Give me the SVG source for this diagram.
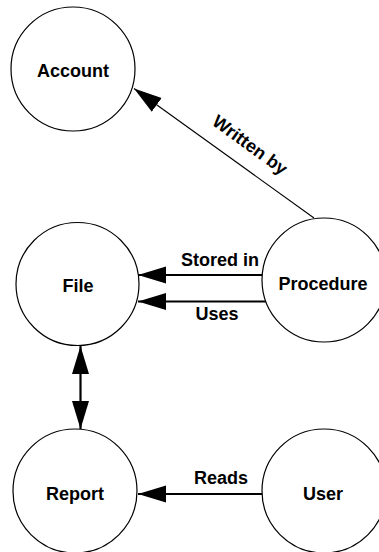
<svg xmlns="http://www.w3.org/2000/svg" width="379" height="552" viewBox="0 0 379 552">
<style>
.node circle{fill:#fff;stroke:#000;stroke-width:1.2}
.lbl{font-family:"Liberation Sans",Arial,sans-serif;font-weight:bold;font-size:18px;fill:#000;text-anchor:middle}
.edge{stroke:#000;fill:none}
.thick{stroke-width:2.2}
.thin{stroke-width:1.1}
</style>
<defs>
<marker id="ah" markerUnits="userSpaceOnUse" markerWidth="30" markerHeight="20" viewBox="0 -10 30 20" refX="28" refY="0" orient="auto-start-reverse">
<path d="M0,-8.5 L28,0 L0,8.5 z" fill="#000"/>
</marker>
</defs>
<g id="connectors">
<line class="edge thin" x1="314" y1="218" x2="134" y2="88.5" marker-end="url(#ah)"/>
<line class="edge thick" x1="262" y1="275" x2="138" y2="275" marker-end="url(#ah)"/>
<line class="edge thick" x1="266" y1="301.5" x2="138" y2="301.5" marker-end="url(#ah)"/>
<line class="edge thick" x1="80.5" y1="346" x2="80.5" y2="429" marker-start="url(#ah)" marker-end="url(#ah)"/>
<line class="edge thick" x1="262" y1="494" x2="138" y2="494" marker-end="url(#ah)"/>
<text class="lbl" transform="translate(250,145) rotate(36)" x="0" y="6">Written by</text>
<text class="lbl" x="220" y="266">Stored in</text>
<text class="lbl" x="217" y="320">Uses</text>
<text class="lbl" x="221" y="484">Reads</text>
</g>
<g id="account" class="node"><circle cx="73" cy="69" r="62"/><text class="lbl" x="73" y="77">Account</text></g>
<g id="file" class="node"><circle cx="77.5" cy="284" r="61.5"/><text class="lbl" x="78" y="292">File</text></g>
<g id="procedure" class="node"><circle cx="324" cy="280" r="62"/><text class="lbl" x="323" y="290">Procedure</text></g>
<g id="report" class="node"><circle cx="75" cy="491" r="62"/><text class="lbl" x="75" y="500">Report</text></g>
<g id="user" class="node"><circle cx="324" cy="491" r="62"/><text class="lbl" x="323" y="500">User</text></g>
</svg>
